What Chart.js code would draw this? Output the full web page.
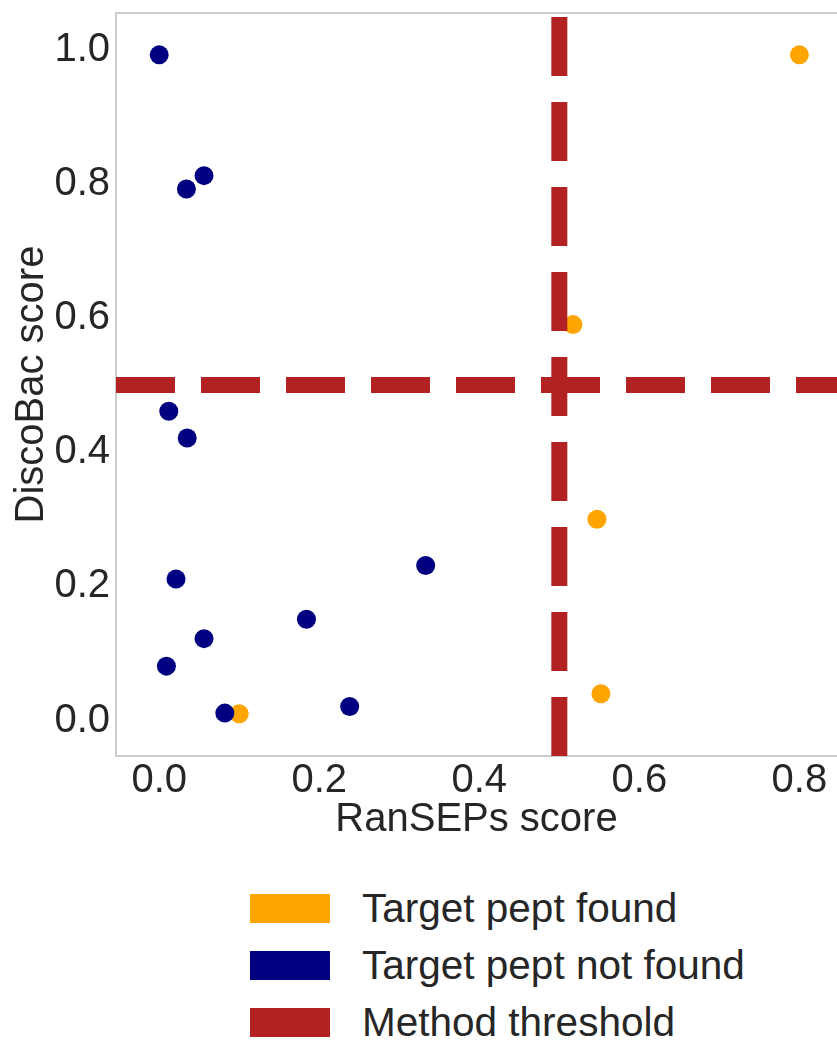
<!DOCTYPE html>
<html>
<head>
<meta charset="utf-8">
<script src="https://cdn.jsdelivr.net/npm/chart.js@4.4.1/dist/chart.umd.min.js"></script>
<style>
  html, body { margin: 0; padding: 0; background: #fff; overflow: hidden; }
  #wrap { position: relative; width: 837px; height: 860px; }
  #legend { position: relative; width: 837px; height: 184px; font-family: 'Liberation Sans', Arial, sans-serif; color: #262626; }
  .item { position: absolute; left: 250px; width: 580px; height: 29px; }
  .box { position: absolute; left: 0; top: 0; width: 80px; height: 29px; }
  .lbl { position: absolute; left: 112px; top: 0; height: 29px; line-height: 29px; font-size: 40.5px; white-space: nowrap; }
</style>
</head>
<body>
<div id="wrap"><canvas id="c"></canvas></div>
<div id="legend"></div>
<script>
// ---- data ----
const foundX    = [0.80, 0.517, 0.547, 0.552, 0.10];
const foundY    = [0.992, 0.59, 0.30, 0.04, 0.01];
const notFoundX = [0.0, 0.034, 0.056, 0.012, 0.035, 0.333, 0.021, 0.184, 0.056, 0.009, 0.082, 0.238];
const notFoundY = [0.992, 0.792, 0.812, 0.461, 0.421, 0.231, 0.211, 0.151, 0.122, 0.081, 0.011, 0.021];
const thresholdRanSEPs = 0.5;
const thresholdDiscoBac = 0.5;
const xRange = [-0.054, 0.847];
const yRange = [-0.0529, 1.0544];
const xTicks = [0.0, 0.2, 0.4, 0.6, 0.8];
const yTicks = [0.0, 0.2, 0.4, 0.6, 0.8, 1.0];
const legendLabels = ['Target pept found', 'Target pept not found', 'Method threshold'];
const xTitle = 'RanSEPs score';
const yTitle = 'DiscoBac score';

const FONT = "'Liberation Sans', Arial, sans-serif";
const TXT = '#262626';
const C_FOUND = '#FFA500', C_NOT = '#000080', C_THR = '#B22222';

const pts = (xs, ys) => xs.map((x, i) => ({x: x, y: ys[i]}));

const frame = {
  id: 'frame',
  beforeDatasetsDraw(chart) {
    const {ctx, chartArea: a} = chart;
    ctx.save();
    ctx.strokeStyle = '#cccccc';
    ctx.lineWidth = 2;
    ctx.beginPath();
    ctx.moveTo(chart.width + 5, a.top);
    ctx.lineTo(a.left, a.top);
    ctx.lineTo(a.left, a.bottom);
    ctx.lineTo(chart.width + 5, a.bottom);
    ctx.stroke();
    ctx.restore();
  }
};

const thrStyle = {
  showLine: true, pointRadius: 0, pointHoverRadius: 0, borderColor: C_THR, backgroundColor: C_THR,
  borderWidth: 16, borderDash: [59, 26], borderCapStyle: 'butt', fill: false, tension: 0, order: 1
};

const chart = new Chart(document.getElementById('c'), {
  type: 'scatter',
  data: {
    datasets: [
      { label: legendLabels[0], data: pts(foundX, foundY), backgroundColor: C_FOUND, borderWidth: 0,
        pointRadius: 9.5, pointHoverRadius: 9.5, order: 3 },
      { label: legendLabels[1], data: pts(notFoundX, notFoundY), backgroundColor: C_NOT, borderWidth: 0,
        pointRadius: 9.5, pointHoverRadius: 9.5, order: 2 },
      Object.assign({ label: legendLabels[2],
        data: [{x: thresholdRanSEPs, y: yRange[0]}, {x: thresholdRanSEPs, y: yRange[1]}] }, thrStyle),
      Object.assign({ label: legendLabels[2], hideInLegend: true,
        data: [{x: xRange[0], y: thresholdDiscoBac}, {x: xRange[1], y: thresholdDiscoBac}] }, thrStyle)
    ]
  },
  options: {
    responsive: true, maintainAspectRatio: false, devicePixelRatio: 1, animation: false,
    events: [],
    layout: { autoPadding: false, padding: { top: 13, right: 0, bottom: 0, left: 0 } },
    plugins: { legend: { display: false }, tooltip: { enabled: false } },
    scales: {
      x: {
        type: 'linear', min: xRange[0], max: xRange[1],
        grid: { display: false, drawTicks: false }, border: { display: false },
        afterBuildTicks: s => { s.ticks = xTicks.map(v => ({value: v})); },
        ticks: { padding: 1, color: TXT, font: { family: FONT, size: 40 }, callback: v => Number(v).toFixed(1), maxRotation: 0 },
        title: { display: true, text: xTitle, color: TXT, font: { family: FONT, size: 40 }, padding: { top: 0, bottom: 16 } },
        afterFit: s => { s.height = 104; s.paddingLeft = 0; s.paddingRight = 0; }
      },
      y: {
        type: 'linear', min: yRange[0], max: yRange[1],
        grid: { display: false, drawTicks: false }, border: { display: false },
        afterBuildTicks: s => { s.ticks = yTicks.map(v => ({value: v})); },
        ticks: { padding: 6, color: TXT, font: { family: FONT, size: 40 }, callback: v => Number(v).toFixed(1) },
        title: { display: true, text: yTitle, color: TXT, font: { family: FONT, size: 40 }, padding: { top: 8, bottom: 0 } },
        afterFit: s => { s.width = 116; s.paddingTop = 0; s.paddingBottom = 0; }
      }
    }
  },
  plugins: [frame]
});

// legend built from the chart's own datasets
const leg = document.getElementById('legend');
const rowTops = [34, 91, 148];
chart.data.datasets.filter(d => !d.hideInLegend).forEach((d, i) => {
  const it = document.createElement('div');
  it.className = 'item';
  it.style.top = rowTops[i] + 'px';
  const b = document.createElement('div');
  b.className = 'box';
  b.style.background = d.backgroundColor;
  const t = document.createElement('div');
  t.className = 'lbl';
  t.textContent = d.label;
  it.appendChild(b); it.appendChild(t);
  leg.appendChild(it);
});
</script>
</body>
</html>
